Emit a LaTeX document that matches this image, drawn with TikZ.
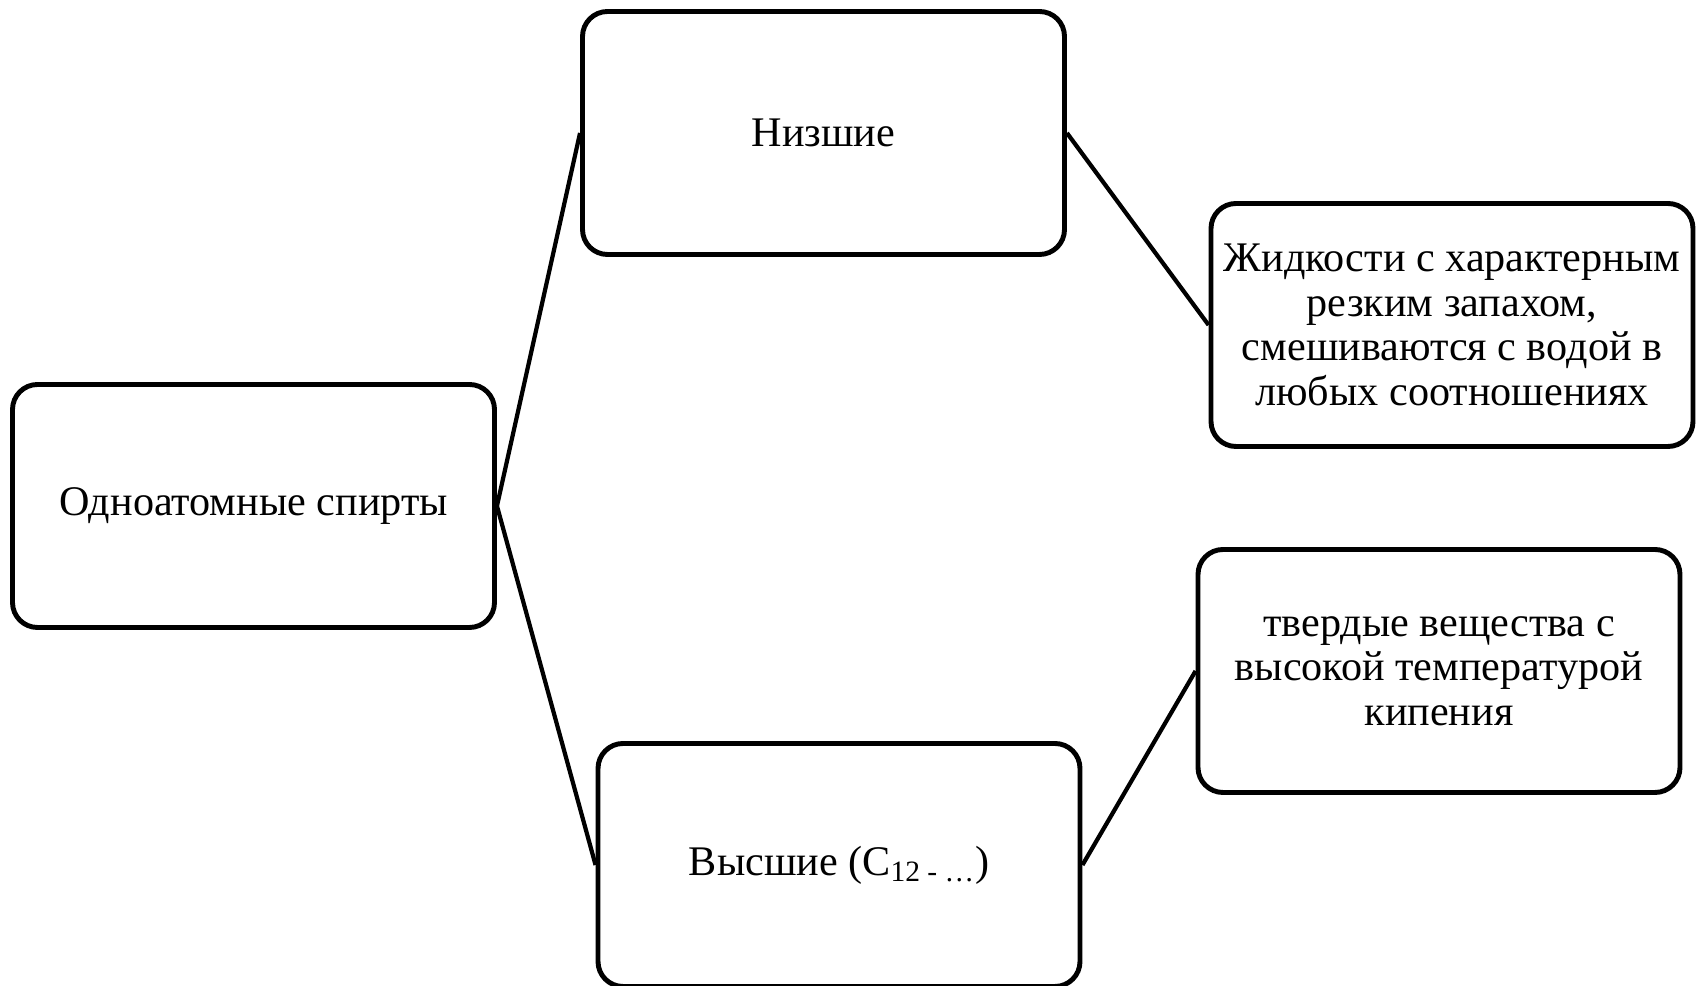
\documentclass[tikz,border=0pt]{standalone}
\usepackage{fontspec}
\setmainfont{Liberation Serif}
\usepackage{tikz}
\tikzstyle{box}=[rectangle, draw, rounded corners=0.5cm, line width=2.8pt, minimum width=9.64cm, minimum height=4.86cm, align=center, font=\fontsize{24}{25.3}\selectfont]
\tikzstyle{edge}=[line width=2.4pt]

\begin{document}
\begin{tikzpicture}
				\useasboundingbox (0,0) rectangle (34.02,19.72);
				\node[box] (spirt) at (5.07,9.6) {Одноатомные спирты};
				\node[box] (nizsh) at (16.47,17.06) {Низшие};
				\node[box] (vyssh) at (16.78,2.42) {Высшие (C\textsubscript{12 - …})};
				\node[box] (zhidk) at (29.04,13.22) {Жидкости с характерным\\резким запахом,\\смешиваются с водой в\\любых соотношениях};
				\node[box] (tverd) at (28.78,6.3) {твердые вещества с\\высокой температурой\\кипения};
				
				\draw[edge] (spirt.east)--(nizsh.west);
				\draw[edge] (spirt.east)--(vyssh.west);
				\draw[edge] (nizsh.east)--(zhidk.west);
				\draw[edge] (vyssh.east)--(tverd.west);
			\end{tikzpicture}
\end{document}
